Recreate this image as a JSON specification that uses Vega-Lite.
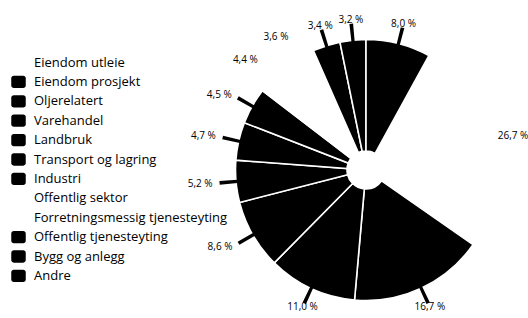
{
  "$schema": "https://vega.github.io/schema/vega-lite/v6.json",
  "autosize": {"type": "none"},
  "padding": {"left": 202, "top": 22, "right": 0, "bottom": 0},
  "width": 328,
  "height": 296,
  "background": "white",
  "config": {"view": {"stroke": null}, "font": "Open Sans"},
  "data": {
    "values": [
      {"kategori": "Eiendom utleie", "andel": 26.7, "etikett": "26,7 %"},
      {"kategori": "Eiendom prosjekt", "andel": 16.7, "etikett": "16,7 %"},
      {"kategori": "Oljerelatert", "andel": 11.0, "etikett": "11,0 %"},
      {"kategori": "Varehandel", "andel": 8.6, "etikett": "8,6 %"},
      {"kategori": "Landbruk", "andel": 5.2, "etikett": "5,2 %"},
      {"kategori": "Transport og lagring", "andel": 4.7, "etikett": "4,7 %"},
      {"kategori": "Industri", "andel": 4.5, "etikett": "4,5 %"},
      {"kategori": "Offentlig sektor", "andel": 4.4, "etikett": "4,4 %"},
      {"kategori": "Forretningsmessig tjenesteyting", "andel": 3.6, "etikett": "3,6 %"},
      {"kategori": "Offentlig tjenesteyting", "andel": 3.4, "etikett": "3,4 %"},
      {"kategori": "Bygg og anlegg", "andel": 3.2, "etikett": "3,2 %"},
      {"kategori": "Andre", "andel": 8.0, "etikett": "8,0 %"}
    ]
  },
  "transform": [
    {"window": [{"op": "sum", "field": "andel", "as": "cum"}], "frame": [null, 0]},
    {"calculate": "datum.cum - datum.andel", "as": "start"},
    {"calculate": "datum.cum - datum.andel / 2", "as": "mid"}
  ],
  "layer": [
    {
      "mark": {"type": "arc", "innerRadius": 19, "outerRadius": 130.5, "stroke": "white", "strokeWidth": 1.6},
      "encoding": {
        "theta": {"field": "start", "type": "quantitative", "scale": {"domain": [0, 100], "range": [0.502655, 6.785840]}},
        "theta2": {"field": "cum"},
        "color": {
          "field": "kategori",
          "type": "nominal",
          "scale": {
            "domain": ["Eiendom utleie", "Eiendom prosjekt", "Oljerelatert", "Varehandel", "Landbruk", "Transport og lagring", "Industri", "Offentlig sektor", "Forretningsmessig tjenesteyting", "Offentlig tjenesteyting", "Bygg og anlegg", "Andre"],
            "range": ["white", "black", "black", "black", "black", "black", "black", "white", "white", "black", "black", "black"]
          },
          "legend": {
            "title": null,
            "orient": "none",
            "legendX": -191,
            "legendY": 33,
            "symbolType": "M-0.65,-0.85H0.65A0.35,0.35 0 0 1 1,-0.5V0.5A0.35,0.35 0 0 1 0.65,0.85H-0.65A0.35,0.35 0 0 1 -1,0.5V-0.5A0.35,0.35 0 0 1 -0.65,-0.85Z",
            "symbolSize": 210,
            "symbolStrokeWidth": 0,
            "labelFont": "Open Sans",
            "labelFontSize": 13,
            "labelColor": "black",
            "labelOffset": 8,
            "rowPadding": 4.4,
            "labelLimit": 300
          }
        }
      }
    },
    {
      "transform": [
        {"filter": {"not": {"field": "kategori", "oneOf": ["Eiendom utleie", "Offentlig sektor", "Forretningsmessig tjenesteyting"]}}},
        {"calculate": "datum.mid - 0.2", "as": "t0"},
        {"calculate": "datum.mid + 0.2", "as": "t1"}
      ],
      "mark": {"type": "arc", "innerRadius": 129, "outerRadius": 147, "fill": "black"},
      "encoding": {
        "theta": {"field": "t0", "type": "quantitative", "scale": {"domain": [0, 100], "range": [0.502655, 6.785840]}},
        "theta2": {"field": "t1"}
      }
    },
    {
      "transform": [
        {"filter": {"field": "kategori", "oneOf": ["Varehandel", "Landbruk", "Transport og lagring", "Industri", "Offentlig sektor", "Forretningsmessig tjenesteyting"]}}
      ],
      "mark": {"type": "text", "radius": 154, "align": "right", "baseline": "middle", "font": "Open Sans", "fontSize": 10, "color": "black"},
      "encoding": {
        "theta": {"field": "mid", "type": "quantitative", "scale": {"domain": [0, 100], "range": [0.502655, 6.785840]}},
        "text": {"field": "etikett"}
      }
    },
    {
      "transform": [
        {"filter": {"not": {"field": "kategori", "oneOf": ["Varehandel", "Landbruk", "Transport og lagring", "Industri", "Offentlig sektor", "Forretningsmessig tjenesteyting"]}}}
      ],
      "mark": {"type": "text", "radius": 151, "align": "center", "baseline": "middle", "font": "Open Sans", "fontSize": 10, "color": "black"},
      "encoding": {
        "theta": {"field": "mid", "type": "quantitative", "scale": {"domain": [0, 100], "range": [0.502655, 6.785840]}},
        "text": {"field": "etikett"}
      }
    }
  ]
}
